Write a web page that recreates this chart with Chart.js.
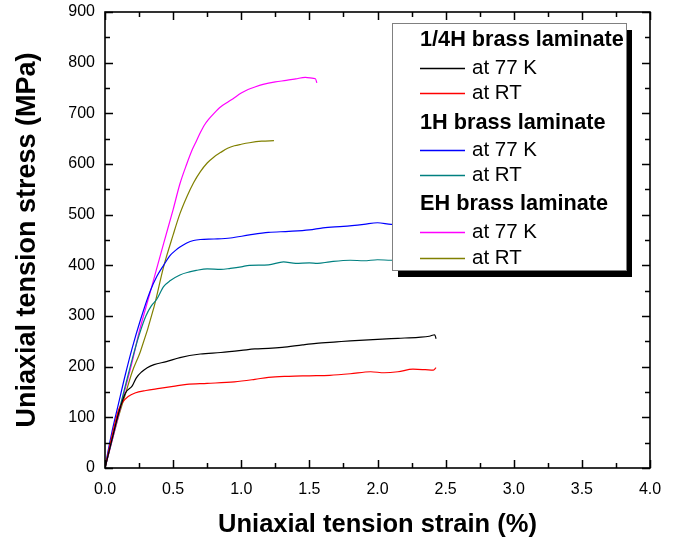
<!DOCTYPE html>
<html>
<head>
<meta charset="utf-8">
<script src="https://cdn.jsdelivr.net/npm/chart.js@4/dist/chart.umd.min.js"></script>
<style>
html,body{margin:0;padding:0;background:#fff;}
#wrap{width:681px;height:543px;position:relative;}
</style>
</head>
<body>
<div id="wrap"><canvas id="c" width="681" height="543"></canvas></div>
<script>
// ---- data ----
const xTicks = [0.0, 0.5, 1.0, 1.5, 2.0, 2.5, 3.0, 3.5, 4.0];
const yTicks = [0, 100, 200, 300, 400, 500, 600, 700, 800, 900];

// 1/4H brass laminate at 77 K (black)
const qh77Strain = [0, 0.05, 0.10, 0.15, 0.20, 0.23, 0.27, 0.31, 0.36, 0.45, 0.55, 0.70, 0.85, 1.00, 1.10, 1.20, 1.30, 1.45, 1.55, 1.70, 1.80, 2.00, 2.15, 2.30, 2.38, 2.42, 2.43];
const qh77Stress = [0, 55, 108, 148, 162, 178, 190, 198, 204, 210, 218, 225, 228, 232, 235, 236, 238, 243, 246, 249, 251, 254, 256, 258, 260, 263, 255];
// 1/4H brass laminate at RT (red)
const qhRTStrain = [0, 0.05, 0.10, 0.13, 0.17, 0.22, 0.30, 0.40, 0.50, 0.60, 0.75, 0.95, 1.10, 1.20, 1.35, 1.50, 1.65, 1.80, 1.95, 2.05, 2.15, 2.26, 2.35, 2.41, 2.43];
const qhRTStress = [0, 62, 115, 130, 141, 148, 153, 157, 161, 165, 167, 170, 175, 179, 181, 182, 183, 186, 190, 188, 190, 195, 194, 193, 198];
// 1H brass laminate at 77 K (blue)
const h77Strain = [0, 0.02, 0.05, 0.10, 0.15, 0.20, 0.26, 0.33, 0.38, 0.43, 0.48, 0.52, 0.55, 0.60, 0.65, 0.70, 0.80, 0.92, 1.06, 1.20, 1.35, 1.50, 1.60, 1.75, 1.90, 2.00, 2.10, 2.30];
const h77Stress = [0, 30, 70, 128, 185, 237, 292, 348, 378, 400, 420, 430, 436, 444, 449, 451, 452, 454, 460, 465, 467, 470, 474, 477, 481, 484, 481, 480];
// 1H brass laminate at RT (teal)
const hRTStrain = [0, 0.05, 0.10, 0.15, 0.20, 0.25, 0.30, 0.34, 0.38, 0.43, 0.48, 0.55, 0.62, 0.67, 0.75, 0.85, 0.92, 1.00, 1.06, 1.20, 1.31, 1.40, 1.50, 1.56, 1.65, 1.80, 1.90, 2.00, 2.10, 2.30];
const hRTStress = [0, 55, 110, 163, 215, 262, 300, 320, 333, 358, 370, 381, 387, 390, 393, 392, 394, 397, 400, 401, 407, 404, 405, 404, 407, 410, 409, 411, 410, 412];
// EH brass laminate at 77 K (magenta)
const eh77Strain = [0, 0.05, 0.10, 0.15, 0.20, 0.25, 0.33, 0.43, 0.50, 0.55, 0.60, 0.64, 0.67, 0.70, 0.73, 0.76, 0.80, 0.85, 0.90, 0.94, 1.00, 1.05, 1.10, 1.16, 1.25, 1.33, 1.40, 1.47, 1.53, 1.545, 1.555];
const eh77Stress = [0, 52, 105, 158, 210, 268, 345, 443, 510, 561, 600, 628, 645, 662, 677, 688, 700, 713, 722, 729, 740, 747, 752, 757, 762, 765, 768, 771, 769, 768, 760];
// EH brass laminate at RT (olive)
const ehRTStrain = [0, 0.05, 0.10, 0.15, 0.20, 0.26, 0.36, 0.43, 0.50, 0.55, 0.60, 0.65, 0.70, 0.75, 0.80, 0.85, 0.90, 0.95, 1.00, 1.06, 1.15, 1.24];
const ehRTStress = [0, 52, 102, 146, 190, 230, 318, 397, 460, 502, 535, 563, 585, 602, 614, 623, 631, 636, 639, 642, 645, 646];

const legendGroups = [
  {title: '1/4H brass laminate', items: [['at 77 K', '#000000'], ['at RT', '#ff0000']]},
  {title: '1H brass laminate', items: [['at 77 K', '#0000ff'], ['at RT', '#008080']]},
  {title: 'EH brass laminate', items: [['at 77 K', '#ff00ff'], ['at RT', '#808000']]}
];

function pts(xs, ys){ return xs.map((x,i)=>({x:x, y:ys[i]})); }
function ds(xs, ys, color){
  return {data: pts(xs, ys), borderColor: color, backgroundColor: color, borderWidth: 1.2,
          pointRadius: 0, showLine: true, fill: false, tension: 0.25, cubicInterpolationMode: 'monotone'};
}

const FONT = "'Liberation Sans', Arial, Helvetica, sans-serif";

const framePlugin = {
  id: 'frame',
  afterDatasetsDraw(chart){
    const {ctx, chartArea: a, scales: {x, y}} = chart;
    ctx.save();
    ctx.strokeStyle = '#000';
    ctx.lineWidth = 1.6;
    ctx.strokeRect(a.left, a.top, a.right - a.left, a.bottom - a.top);
    ctx.lineWidth = 1.5;
    ctx.beginPath();
    for (let v = 0; v <= 4.0001; v += 0.25) {
      const px = Math.round(x.getPixelForValue(v)) + 0.5;
      const major = Math.abs(v*2 - Math.round(v*2)) < 1e-6;
      const L = major ? 8 : 5;
      ctx.moveTo(px, a.bottom); ctx.lineTo(px, a.bottom - L);
      ctx.moveTo(px, a.top); ctx.lineTo(px, a.top + L);
    }
    for (let v = 0; v <= 900.001; v += 50) {
      const py = Math.round(y.getPixelForValue(v)) + 0.5;
      const major = (v % 100) === 0;
      const L = major ? 8 : 5;
      ctx.moveTo(a.left, py); ctx.lineTo(a.left + L, py);
      ctx.moveTo(a.right, py); ctx.lineTo(a.right - L, py);
    }
    ctx.stroke();
    ctx.restore();
  }
};

const legendPlugin = {
  id: 'groupLegend',
  afterDraw(chart){
    const ctx = chart.ctx;
    const bx = 392, by = 23, bw = 234, bh = 247;
    ctx.save();
    ctx.fillStyle = '#000';
    ctx.fillRect(bx + 6, by + 7, bw, bh);
    ctx.fillStyle = '#fff';
    ctx.fillRect(bx, by, bw, bh);
    ctx.strokeStyle = '#808080';
    ctx.lineWidth = 1;
    ctx.strokeRect(bx + 0.5, by + 0.5, bw, bh);
    const rows = [40, 68, 93, 123, 150, 175, 204, 232, 258];
    let r = 0;
    ctx.textBaseline = 'middle';
    ctx.textAlign = 'left';
    legendGroups.forEach(g => {
      ctx.fillStyle = '#000';
      ctx.font = 'bold 21.7px ' + FONT;
      ctx.fillText(g.title, 420, rows[r++]);
      g.items.forEach(item => {
        const label = item[0], color = item[1];
        const yy = rows[r++];
        ctx.beginPath();
        ctx.strokeStyle = color;
        ctx.lineWidth = 1.3;
        ctx.moveTo(420, yy + 0.5);
        ctx.lineTo(465, yy + 0.5);
        ctx.stroke();
        ctx.fillStyle = '#000';
        ctx.font = '20.5px ' + FONT;
        ctx.fillText(label, 472, yy);
      });
    });
    ctx.restore();
  }
};

new Chart(document.getElementById('c'), {
  type: 'scatter',
  data: {
    datasets: [
      ds(qh77Strain, qh77Stress, '#000000'),
      ds(qhRTStrain, qhRTStress, '#ff0000'),
      ds(h77Strain, h77Stress, '#0000ff'),
      ds(hRTStrain, hRTStress, '#008080'),
      ds(eh77Strain, eh77Stress, '#ff00ff'),
      ds(ehRTStrain, ehRTStress, '#808000')
    ]
  },
  options: {
    responsive: false,
    animation: false,
    layout: {padding: {left: 0, top: 12, right: 31, bottom: 0}},
    plugins: {legend: {display: false}, tooltip: {enabled: false}},
    scales: {
      x: {
        type: 'linear', min: 0, max: 4,
        afterBuildTicks(s){ s.ticks = xTicks.map(v => ({value: v})); },
        afterFit(s){ s.height = 75; s.paddingLeft = 0; s.paddingRight = 0; },
        grid: {display: false, drawTicks: false},
        border: {display: false},
        ticks: {color: '#000', padding: 12, font: {family: FONT, size: 16},
                callback: v => Number(v).toFixed(1), maxRotation: 0, autoSkip: false},
        title: {display: true, text: 'Uniaxial tension strain (%)', color: '#000',
                font: {family: FONT, size: 25.5, weight: 'bold'}, padding: {top: 0, bottom: 3}}
      },
      y: {
        type: 'linear', min: 0, max: 900,
        afterBuildTicks(s){ s.ticks = yTicks.map(v => ({value: v})); },
        afterFit(s){ s.width = 105; s.paddingTop = 0; s.paddingBottom = 0; },
        grid: {display: false, drawTicks: false},
        border: {display: false},
        ticks: {color: '#000', padding: 10, font: {family: FONT, size: 16}, autoSkip: false},
        title: {display: true, text: 'Uniaxial tension stress (MPa)', color: '#000',
                font: {family: FONT, size: 27, weight: 'bold'}, padding: {top: 11, bottom: 0}}
      }
    }
  },
  plugins: [framePlugin, legendPlugin]
});
</script>
</body>
</html>
